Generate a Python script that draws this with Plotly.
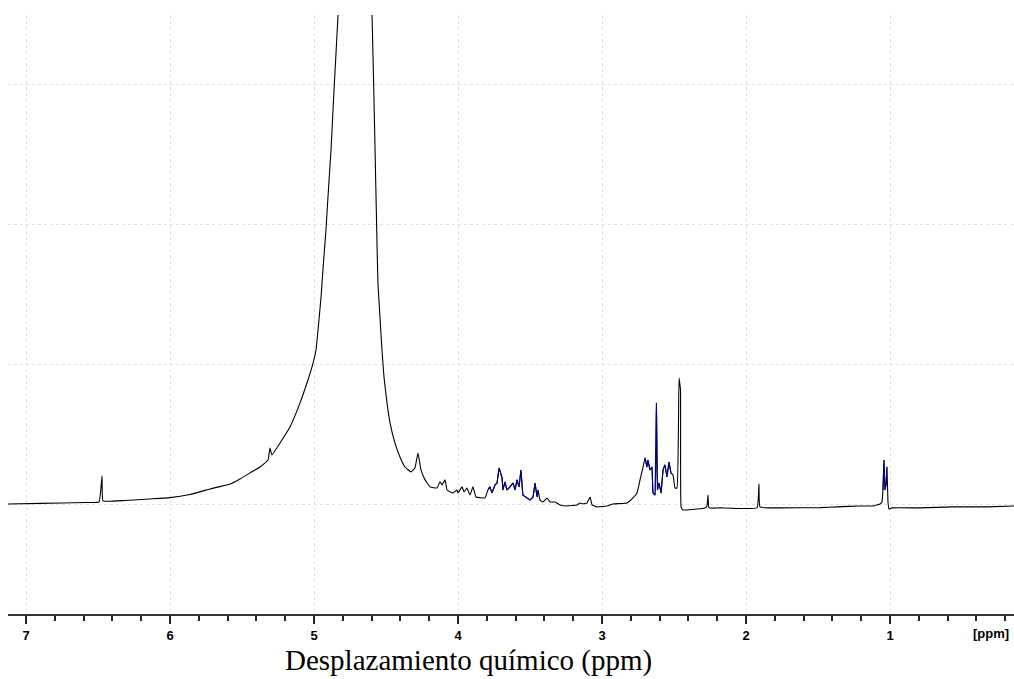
import plotly.graph_objects as go

# Spectrum: chemical shift (ppm) and relative intensity
ppm = [7.125, 6.903, 6.590, 6.493, 6.472, 6.465, 6.313, 6.139, 6.000, 5.861,
       5.722, 5.583, 5.514, 5.444, 5.375, 5.319, 5.306, 5.292, 5.236, 5.167, 5.097,
       5.049, 5.014, 4.986, 4.972, 4.951, 4.938, 4.917, 4.903, 4.882, 4.861,
       4.833, 4.806, 4.764, 4.715, 4.667, 4.625, 4.597, 4.576, 4.565, 4.556,
       4.542, 4.528, 4.514, 4.493, 4.472, 4.438, 4.403, 4.368, 4.326, 4.299,
       4.278, 4.257, 4.229, 4.194, 4.146, 4.125, 4.111, 4.090, 4.076, 4.035,
       4.007, 4.000, 3.972, 3.958, 3.938, 3.917, 3.896, 3.875, 3.813, 3.792,
       3.778, 3.764, 3.743, 3.729, 3.715, 3.694, 3.688, 3.674, 3.660, 3.639,
       3.618, 3.604, 3.590, 3.576, 3.563, 3.556, 3.549, 3.521, 3.500, 3.479,
       3.465, 3.451, 3.444, 3.431, 3.410, 3.382, 3.361, 3.326, 3.292, 3.243,
       3.174, 3.153, 3.132, 3.104, 3.083, 3.069, 3.035, 2.965, 2.924, 2.826,
       2.785, 2.757, 2.736, 2.715, 2.701, 2.688, 2.681, 2.667, 2.653, 2.646,
       2.632, 2.622, 2.615, 2.604, 2.590, 2.576, 2.563, 2.549, 2.535, 2.521,
       2.507, 2.493, 2.479, 2.465, 2.455, 2.451, 2.438, 2.340, 2.285, 2.271,
       2.264, 2.257, 2.181, 1.924, 1.910, 1.903, 1.764, 1.486, 1.368, 1.208,
       1.118, 1.069, 1.056, 1.049, 1.042, 1.035, 1.028, 1.021, 1.014, 1.007,
       0.986, 0.792, 0.563, 0.326, 0.139]

intensity = [0.007, 0.011, 0.018, 0.021, 0.207, 0.029, 0.032, 0.043, 0.052, 0.075,
             0.114, 0.150, 0.186, 0.229, 0.271, 0.321, 0.407, 0.357, 0.443, 0.557, 0.729,
             0.871, 0.986, 1.107, 1.250, 1.486, 1.679, 1.964, 2.200, 2.536, 2.964,
             3.500, 4.040, 5.750, 25.00, 5.750, 4.040, 3.500, 2.536, 1.986, 1.586,
             1.343, 1.107, 0.914, 0.729, 0.586, 0.443, 0.343, 0.271, 0.236, 0.264,
             0.371, 0.250, 0.179, 0.129, 0.121, 0.166, 0.143, 0.179, 0.107, 0.086,
             0.107, 0.086, 0.129, 0.093, 0.121, 0.071, 0.129, 0.057, 0.050, 0.107,
             0.129, 0.086, 0.143, 0.157, 0.264, 0.193, 0.107, 0.164, 0.107, 0.129,
             0.157, 0.107, 0.179, 0.129, 0.250, 0.157, 0.071, 0.050, 0.036, 0.057,
             0.157, 0.057, 0.107, 0.036, 0.021, 0.050, 0.021, 0.021, 0.000, -0.007,
             0.000, 0.014, 0.007, 0.014, 0.057, 0.000, -0.014, -0.007, 0.007, 0.014,
             0.050, 0.086, 0.179, 0.271, 0.336, 0.271, 0.321, 0.250, 0.271, 0.086,
             0.071, 0.729, 0.107, 0.157, 0.086, 0.250, 0.286, 0.200, 0.307, 0.229,
             0.214, 0.121, 0.121, 0.907, 0.821, -0.014, -0.036, -0.029, -0.021, -0.007,
             0.071, -0.021, -0.021, -0.021, 0.150, -0.014, -0.021, -0.019, -0.014, -0.007,
             -0.007, 0.007, 0.021, 0.107, 0.321, 0.107, 0.143, 0.271, 0.021, -0.029,
             -0.021, -0.021, -0.014, -0.014, -0.007]

# Crowded multiplet regions drawn in navy in the original
blue_ranges = [(3.80, 3.44), (2.71, 2.52), (1.05, 1.02)]

tick_vals = [1, 2, 3, 4, 5, 6, 7]
tick_text = ["1", "2", "3", "4", "5", "6", "7"]

fig = go.Figure()
fig.add_trace(go.Scatter(x=ppm, y=intensity, mode="lines",
                         line=dict(color="#000000", width=1.1, shape="spline",
                                   smoothing=0.3),
                         hoverinfo="skip", showlegend=False))

bx, by = [], []
for hi, lo in blue_ranges:
    for p, v in zip(ppm, intensity):
        if lo <= p <= hi:
            bx.append(p)
            by.append(v)
    bx.append(None)
    by.append(None)
fig.add_trace(go.Scatter(x=bx, y=by, mode="lines",
                         line=dict(color="#00008B", width=1.1),
                         hoverinfo="skip", showlegend=False))

fig.update_layout(
    width=1014, height=679,
    margin=dict(l=8, r=0, t=15, b=65),
    paper_bgcolor="white", plot_bgcolor="white",
    xaxis=dict(range=[7.125, 0.139], tickvals=tick_vals, ticktext=tick_text,
               ticks="outside", ticklen=8, tickwidth=2, tickcolor="#222",
               showline=True, linecolor="#333", linewidth=2,
               showgrid=True, gridcolor="#e0e0e0", griddash="dot", gridwidth=1,
               zeroline=False,
               tickfont=dict(family="Liberation Sans", size=13, color="black",
                             weight="bold"),
               minor=dict(dtick=0.2, tick0=0, ticks="outside", ticklen=5,
                          tickwidth=1.5, tickcolor="#222", showgrid=False)),
    yaxis=dict(range=[-0.779, 3.5], showticklabels=False, ticks="",
               showline=False, zeroline=False,
               showgrid=True, gridcolor="#e0e0e0", griddash="dot", gridwidth=1,
               tickvals=[0, 1, 2, 3]),
    annotations=[
        dict(text="[ppm]", xref="paper", yref="paper", x=0.977, y=-0.032,
             showarrow=False, xanchor="center", yanchor="middle",
             font=dict(family="Liberation Sans", size=13, color="black",
                       weight="bold")),
        dict(text="Desplazamiento químico (ppm)", xref="paper", yref="paper",
             x=0.458, y=-0.077, showarrow=False, xanchor="center",
             yanchor="middle",
             font=dict(family="Liberation Serif", size=29, color="black")),
    ],
)

fig.write_html("out.html", config={"displayModeBar": False},
               post_script="document.body.style.margin='0';"
                           "document.body.style.overflow='hidden';")
